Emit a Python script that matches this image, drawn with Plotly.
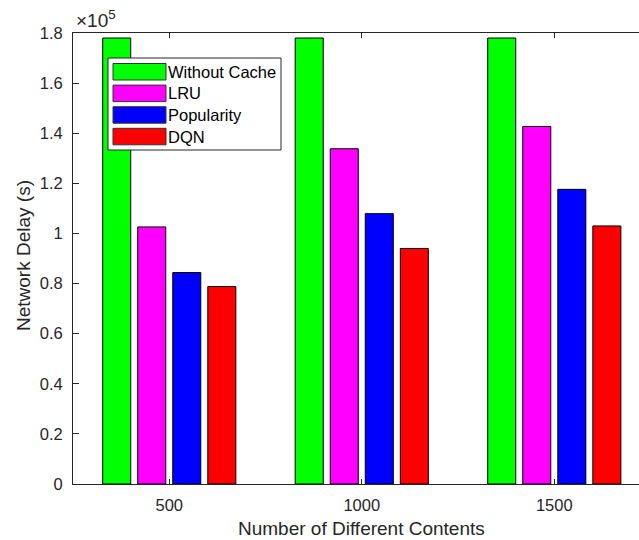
import plotly.graph_objects as go

contents = ["500", "1000", "1500"]
series_names = ["Without Cache", "LRU", "Popularity", "DQN"]
without_cache = [178000, 178000, 178000]
lru = [102600, 133800, 142700]
popularity = [84400, 107900, 117600]
dqn = [78800, 94000, 103000]
y_tickvals = [0, 20000, 40000, 60000, 80000, 100000, 120000, 140000, 160000, 180000]
y_ticktext = ["0", "0.2", "0.4", "0.6", "0.8", "1", "1.2", "1.4", "1.6", "1.8"]

colors = ["#00ff00", "#ff00ff", "#0000ff", "#ff0000"]
values = [without_cache, lru, popularity, dqn]

W, H = 639, 540
L, R, T, B = 73, 0, 33, 56
pw, ph = W - L - R, H - T - B
FONT = "Liberation Sans, Arial, Helvetica, sans-serif"
TXT = "#262626"


def px(x):
    return (x - L) / pw


def py(y):
    return (H - B - y) / ph


fig = go.Figure()
for name, vals, col in zip(series_names, values, colors):
    fig.add_trace(go.Bar(
        x=contents, y=vals, name=name,
        marker=dict(color=col, line=dict(color="#000000", width=1)),
        showlegend=False,
    ))

# custom legend (MATLAB-like wide swatches)
shapes = [dict(type="rect", xref="paper", yref="paper",
               x0=px(108), x1=px(281), y0=py(150), y1=py(58),
               line=dict(color="#262626", width=1), fillcolor="white", layer="above")]
annotations = []
row_top = 63.5
pitch = 21.6
sw_h = 16.5
for i, (name, col) in enumerate(zip(series_names, colors)):
    y0 = row_top + i * pitch
    shapes.append(dict(type="rect", xref="paper", yref="paper",
                       x0=px(113), x1=px(166), y0=py(y0 + sw_h), y1=py(y0),
                       line=dict(color="#333333", width=1), fillcolor=col, layer="above"))
    annotations.append(dict(xref="paper", yref="paper", x=px(166), y=py(y0 + sw_h / 2),
                            text=name, showarrow=False, xanchor="left", yanchor="middle",
                            font=dict(family=FONT, size=16.5, color="#000000")))

annotations.append(dict(xref="paper", yref="paper", x=px(74), y=1, yshift=0,
                        text="×10<sup>5</sup>", showarrow=False, xanchor="left", yanchor="bottom",
                        font=dict(family=FONT, size=19, color=TXT)))
annotations.append(dict(xref="paper", yref="paper", x=px(361), y=py(528),
                        text="Number of Different Contents", showarrow=False,
                        xanchor="center", yanchor="middle",
                        font=dict(family=FONT, size=19, color=TXT)))
annotations.append(dict(xref="paper", yref="paper", x=px(23), y=py(256),
                        text="Network Delay (s)", showarrow=False, textangle=-90,
                        xanchor="center", yanchor="middle",
                        font=dict(family=FONT, size=19, color=TXT)))

fig.update_layout(
    width=W, height=H,
    margin=dict(l=L, r=R, t=T, b=B, autoexpand=False),
    paper_bgcolor="white", plot_bgcolor="white",
    barmode="group", bargap=0.272, bargroupgap=0.2,
    font=dict(family=FONT, color=TXT),
    shapes=shapes, annotations=annotations,
    xaxis=dict(
        type="category", range=[-0.5, 2.44],
        showline=True, linecolor=TXT, linewidth=1, mirror="ticks",
        ticks="inside", ticklen=5, tickcolor=TXT,
        tickfont=dict(family=FONT, size=16.5, color=TXT),
        ticklabelstandoff=6,
        showgrid=False, zeroline=False, automargin=False,
    ),
    yaxis=dict(
        range=[0, 180000],
        tickvals=y_tickvals, ticktext=y_ticktext,
        showline=True, linecolor=TXT, linewidth=1, mirror=False,
        ticks="inside", ticklen=6, tickcolor=TXT,
        tickfont=dict(family=FONT, size=16.5, color=TXT),
        ticklabelstandoff=6,
        showgrid=False, zeroline=False, automargin=False,
    ),
)

fig.write_html("out.html",
               config={"displayModeBar": False},
               post_script="document.body.style.margin='0';document.body.style.overflow='hidden';")
